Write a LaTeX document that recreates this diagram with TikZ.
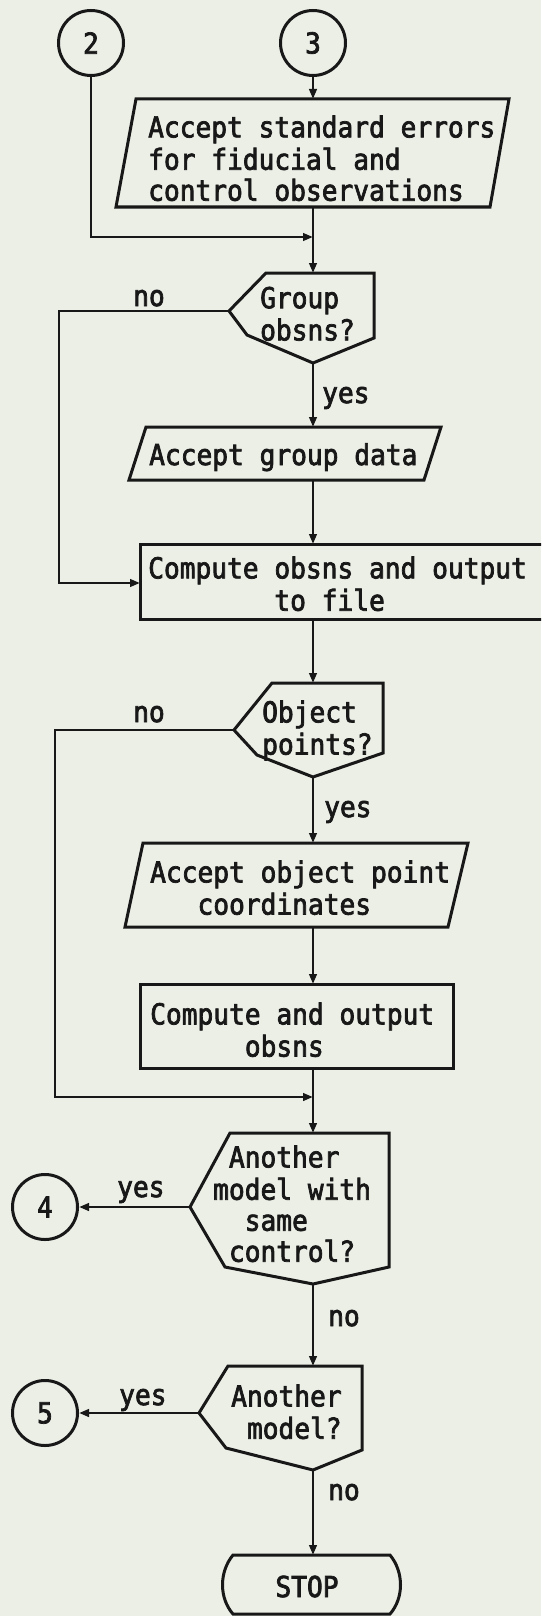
\documentclass[tikz,border=0pt]{standalone}
\usepackage{fontspec}
\newfontfamily\flowfont[FakeStretch=0.91,FakeBold=2.5]{DejaVu Sans Mono}
\usetikzlibrary{arrows.meta}
\definecolor{paper}{RGB}{236,239,230}
\definecolor{ink}{RGB}{24,24,24}

\begin{document}
\begin{tikzpicture}[x=1pt,y=-1pt,
  outline/.style={draw=ink, line width=3pt, line join=miter},
  flow/.style={draw=ink, line width=2.7pt, -{Triangle[length=10pt,width=7.5pt]}},
  txt/.style={font=\flowfont\fontsize{28.8pt}{31pt}\selectfont, text=ink,
              inner sep=0pt, align=left, anchor=north west},
  lbl/.style={font=\flowfont\fontsize{28.8pt}{31pt}\selectfont, text=ink,
              inner sep=0pt, anchor=base west},
  conn/.style={circle, draw=ink, line width=3pt, minimum size=65pt,
               inner sep=0pt, font=\flowfont\fontsize{28.8pt}{31pt}\selectfont, text=ink},
]
% page
\fill[paper] (0,0) rectangle (541,1616);
\useasboundingbox (0,0) rectangle (541,1616);
\clip (0,0) rectangle (541,1616);

% connectors (off-page references)
\node[conn] (n2) at (91,43) {2};
\node[conn] (n3) at (313,43) {3};
\node[conn] (n4) at (45,1207) {4};
\node[conn] (n5) at (45,1413) {5};

% attachment points on the outlines
\coordinate (p1n) at (313,99);   \coordinate (p1s) at (313,207);
\coordinate (j1)  at (313,237);
\coordinate (d1n) at (313,273);  \coordinate (d1s) at (313,363);  \coordinate (d1w) at (229,311);
\coordinate (p2n) at (313,427);  \coordinate (p2s) at (313,480);
\coordinate (c1n) at (313,544);  \coordinate (c1s) at (313,619);  \coordinate (c1w) at (140,583);
\coordinate (d2n) at (313,683);  \coordinate (d2s) at (313,777);  \coordinate (d2w) at (234,730);
\coordinate (p3n) at (313,843);  \coordinate (p3s) at (313,927);
\coordinate (c2n) at (313,984);  \coordinate (c2s) at (313,1068);
\coordinate (j2)  at (313,1097);
\coordinate (d3n) at (313,1133); \coordinate (d3s) at (313,1284); \coordinate (d3w) at (190,1207);
\coordinate (d4n) at (313,1366); \coordinate (d4s) at (313,1470); \coordinate (d4w) at (199,1413);
\coordinate (stn) at (313,1555);

% outlines
\draw[outline] (116,207) -- (136,99) -- (509,99) -- (490,207) -- cycle;
\draw[outline] (d1w) -- (266,273) -- (374,273) -- (374,338) -- (d1s) -- (247,335) -- cycle;
\draw[outline] (129,480) -- (146,427) -- (441,427) -- (424,480) -- cycle;
\draw[outline] (140,544) rectangle (560,619);
\draw[outline] (d2w) -- (272,683) -- (383,683) -- (383,753) -- (d2s) -- (257,755) -- cycle;
\draw[outline] (125,927) -- (143,843) -- (468,843) -- (448,927) -- cycle;
\draw[outline] (140,984) rectangle (453,1068);
\draw[outline] (d3w) -- (230,1133) -- (389,1133) -- (389,1267) -- (d3s) -- (225,1267) -- cycle;
\draw[outline] (d4w) -- (228,1366) -- (362,1366) -- (362,1450) -- (d4s) -- (226,1448) -- cycle;
\draw[outline] (233,1555) -- (390,1555) .. controls (404,1572) and (404,1598) .. (390,1614)
  -- (233,1614) .. controls (219,1598) and (219,1572) .. (233,1555) -- cycle;

% texts
\node[txt] (p1t) at (148,115.3) {\strut Accept standard errors\\for fiducial and\\control observations\strut};
\node[txt] (d1t) at (260,286.3) {\strut Group\\obsns?\strut};
\node[lbl] (p2t) at (149,465) {Accept group data};
\node[txt] (c1t) at (148,556.3) {\strut Compute obsns and output\\\phantom{xxxxxxxx}to file\strut};
\node[txt] (d2t) at (262,700.3) {\strut Object\\points?\strut};
\node[txt] (p3t) at (150,860.3) {\strut Accept object point\\\phantom{xxx}coordinates\strut};
\node[txt] (c2t) at (150,1002.3) {\strut Compute and output\\\phantom{xxxxxx}obsns\strut};
\node[txt] (d3t) at (213,1145.3) {\strut\phantom{x}Another\\model with\\\phantom{xx}same\\\phantom{x}control?\strut};
\node[txt] (d4t) at (231,1384.3) {\strut Another\\\phantom{x}model?\strut};
\node[lbl, anchor=base] (stopt) at (307,1597) {STOP};

% branch labels
\node[lbl] (l1) at (133,306) {no};
\node[lbl] (l2) at (322,403) {yes};
\node[lbl] (l3) at (133,722) {no};
\node[lbl] (l4) at (324,817) {yes};
\node[lbl] (l5) at (117,1197) {yes};
\node[lbl] (l6) at (328,1326) {no};
\node[lbl] (l7) at (119,1405) {yes};
\node[lbl] (l8) at (328,1500) {no};

% flow lines
\draw[flow] (n3) -- (p1n);
\draw[flow] (p1s) -- (d1n);
\draw[flow] (n2) |- (j1);
\draw[flow] (d1s) -- (p2n);
\draw[flow] (p2s) -- (c1n);
\draw[flow] (d1w) -- ++(-170,0) |- (c1w);
\draw[flow] (c1s) -- (d2n);
\draw[flow] (d2s) -- (p3n);
\draw[flow] (p3s) -- (c2n);
\draw[flow] (c2s) -- (d3n);
\draw[flow] (d2w) -- ++(-179,0) |- (j2);
\draw[flow] (d3w) -- (n4);
\draw[flow] (d3s) -- (d4n);
\draw[flow] (d4w) -- (n5);
\draw[flow] (d4s) -- (stn);
\end{tikzpicture}
\end{document}
